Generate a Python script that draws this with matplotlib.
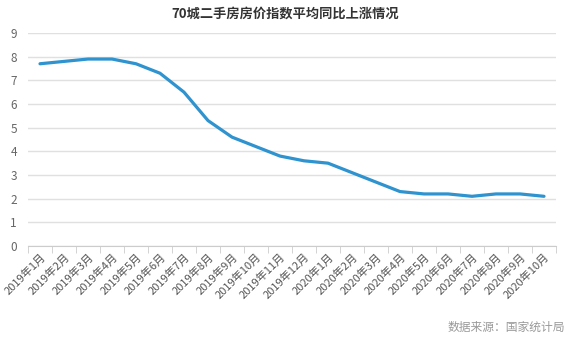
import matplotlib
matplotlib.use('Agg')
import matplotlib.pyplot as plt
import numpy as np

plt.rcParams['font.family'] = ['Noto Sans CJK SC', 'DejaVu Sans']

months = ['2019年1月', '2019年2月', '2019年3月', '2019年4月', '2019年5月', '2019年6月',
          '2019年7月', '2019年8月', '2019年9月', '2019年10月', '2019年11月', '2019年12月',
          '2020年1月', '2020年2月', '2020年3月', '2020年4月', '2020年5月', '2020年6月',
          '2020年7月', '2020年8月', '2020年9月', '2020年10月']
values = [7.7, 7.8, 7.9, 7.9, 7.7, 7.3, 6.5, 5.3, 4.6, 4.2, 3.8, 3.6,
          3.5, 3.1, 2.7, 2.3, 2.2, 2.2, 2.1, 2.2, 2.2, 2.1]

fig = plt.figure(figsize=(5.71, 3.39), dpi=100)
ax = fig.add_axes([28/571, 1 - 246/339, (556 - 28)/571, (246 - 33)/339])

x = np.arange(len(months))
ax.plot(x, values, color='#2e93cf', linewidth=2.3, solid_capstyle='round', zorder=3)

ax.set_xlim(-0.5, len(months) - 0.5)
ax.set_ylim(0, 9)
ax.set_yticks(range(0, 10))
ax.yaxis.grid(True, color='#e0e0e0', linewidth=1)
ax.set_axisbelow(True)

for s in ['top', 'right', 'left']:
    ax.spines[s].set_visible(False)
ax.spines['bottom'].set_color('#cccccc')

ax.set_xticks(x)
ax.set_xticklabels(months, rotation=45, ha='right', rotation_mode='anchor',
                   fontsize=8, color='#555555')
ax.tick_params(axis='x', length=0, pad=4)
ax.set_xticks(np.arange(-0.5, len(months), 1), minor=True)
ax.tick_params(axis='x', which='minor', length=5, color='#cccccc')
ax.tick_params(axis='y', length=0, labelsize=8.5, labelcolor='#666666', pad=8)

fig.text(0.5, 1 - 14/339, '70城二手房房价指数平均同比上涨情况', ha='center', va='center',
         fontsize=9.5, fontweight='bold', color='#333333')
fig.text(565/571, 1 - 327/339, '数据来源：国家统计局', ha='right', va='center',
         fontsize=8.5, color='#999999')

fig.savefig('out.png', dpi=100)
